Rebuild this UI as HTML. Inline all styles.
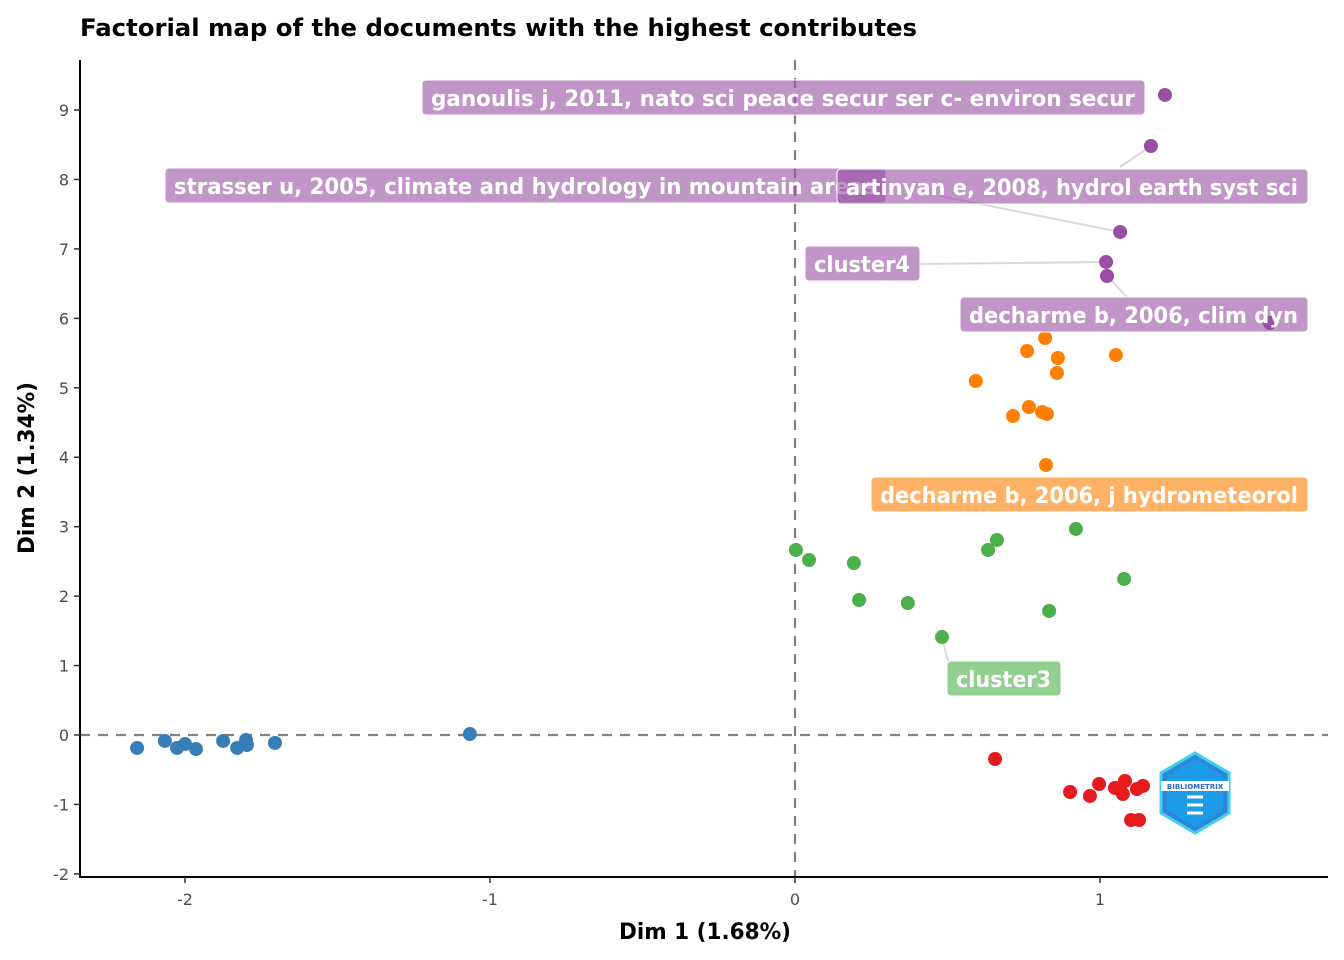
<!DOCTYPE html>
<html><head><meta charset="utf-8"><style>
body{margin:0;background:#fff}
svg{display:block;font-family:"DejaVu Sans","Liberation Sans",sans-serif}
</style></head><body>
<svg id="chart" width="1344" height="960">
<text x="80" y="36" font-size="24" font-weight="bold" fill="#000" textLength="837" lengthAdjust="spacingAndGlyphs">Factorial map of the documents with the highest contributes</text>
<g id="grid"></g>
<g id="links"></g>
<g id="pts"></g>
<g id="labels"></g>
<g id="axes"></g>
<g transform="translate(1195,793)">
<polygon points="0,-40 34,-20 34,20 0,40 -34,20 -34,-20" fill="#2f86d8" stroke="#3fd0f0" stroke-width="3"/>
<polygon points="0,-34 28,-17 28,17 0,34 -28,17 -28,-17" fill="#1e9be6"/>
<rect x="-34" y="-12" width="68" height="10" fill="#fff"/>
<text x="0" y="-4" font-size="7" font-weight="bold" text-anchor="middle" fill="#2a6cc8">BIBLIOMETRIX</text>
<path d="M-8,4 h16 M-8,12 h16 M-8,20 h16" stroke="#fff" stroke-width="3"/>
</g>
<text x="705" y="939" font-size="22" font-weight="bold" text-anchor="middle" textLength="172" lengthAdjust="spacingAndGlyphs">Dim 1 (1.68%)</text>
<text transform="translate(34,468) rotate(-90)" font-size="22" font-weight="bold" text-anchor="middle" textLength="172" lengthAdjust="spacingAndGlyphs">Dim 2 (1.34%)</text>
</svg>
<script>
const xTicks=[-2,-1,0,1];
const yTicks=[-2,-1,0,1,2,3,4,5,6,7,8,9];
const blueX=[-2.157,-2.066,-2.026,-2.0,-1.964,-1.875,-1.829,-1.8,-1.797,-1.705,-1.066];
const blueY=[-0.187,-0.086,-0.187,-0.13,-0.202,-0.086,-0.187,-0.072,-0.144,-0.115,0.014];
const redX=[0.656,0.902,0.967,0.997,1.049,1.082,1.075,1.121,1.141,1.102,1.128];
const redY=[-0.346,-0.821,-0.878,-0.706,-0.763,-0.662,-0.85,-0.778,-0.734,-1.224,-1.224];
const greenX=[0.003,0.046,0.193,0.21,0.37,0.482,0.633,0.662,0.833,0.921,1.079];
const greenY=[2.664,2.52,2.477,1.944,1.901,1.411,2.664,2.808,1.786,2.967,2.247];
const orangeX=[0.82,0.761,0.862,1.052,0.859,0.593,0.767,0.715,0.81,0.826,0.823];
const orangeY=[5.717,5.53,5.429,5.472,5.213,5.098,4.723,4.594,4.651,4.623,3.888];
const purpleX=[1.213,1.167,1.066,1.02,1.023,1.557];
const purpleY=[9.217,8.482,7.244,6.812,6.61,5.933];
const sx=v=>795+v*305;
const sy=v=>735-v*69.44;
const NS="http://www.w3.org/2000/svg";
function mk(tag,attrs,parent){const e=document.createElementNS(NS,tag);for(const k in attrs)e.setAttribute(k,attrs[k]);parent.appendChild(e);return e;}
const grid=document.getElementById('grid');
let l=mk('line',{x1:80,x2:1328,y1:sy(0),y2:sy(0),stroke:'#808080','stroke-width':2.2,'stroke-dasharray':'10,8'},grid);


l=mk('line',{x1:sx(0),x2:sx(0),y1:60,y2:877,stroke:'#808080','stroke-width':2.2,'stroke-dasharray':'10,8'},grid);


const axes=document.getElementById('axes');
mk('line',{x1:80,x2:80,y1:60,y2:877,stroke:'#000','stroke-width':2},axes);
mk('line',{x1:79,x2:1328,y1:877,y2:877,stroke:'#000','stroke-width':2},axes);
xTicks.forEach(t=>{mk('line',{x1:sx(t),x2:sx(t),y1:877,y2:883,stroke:'#333','stroke-width':1.5},axes);
const tx=mk('text',{x:sx(t),y:905,'font-size':16,'text-anchor':'middle',fill:'#4d4d4d'},axes);tx.textContent=t;

});
yTicks.forEach(t=>{mk('line',{x1:74,x2:80,y1:sy(t),y2:sy(t),stroke:'#333','stroke-width':1.5},axes);
const tx=mk('text',{x:69,y:sy(t)+6,'font-size':16,'text-anchor':'end',fill:'#4d4d4d'},axes);tx.textContent=t;

});
const pts=document.getElementById('pts');
[[blueX,blueY,'#377eb8','cluster1'],[redX,redY,'#e41a1c','cluster2'],[greenX,greenY,'#4daf4a','cluster3'],[orangeX,orangeY,'#ff7f00','cluster5'],[purpleX,purpleY,'#984ea3','cluster4']].forEach(([X,Y,c,n])=>{
X.forEach((x,i)=>{const p=mk('circle',{cx:sx(x),cy:sy(Y[i]),r:7,fill:c},pts);

});});
const links=document.getElementById('links');
[[1120,167,sx(purpleX[1]),sy(purpleY[1])],[940,196,sx(purpleX[2]),sy(purpleY[2])],[920,264,sx(purpleX[3]),sy(purpleY[3])],[1127,297,sx(purpleX[4]),sy(purpleY[4])],[948,661,sx(greenX[5]),sy(greenY[5])]].forEach(a=>{
mk('line',{x1:a[0],y1:a[1],x2:a[2],y2:a[3],stroke:'#d9d9d9','stroke-width':2},links);});
const labels=document.getElementById('labels');
[['ganoulis j, 2011, nato sci peace secur ser c- environ secur',422,80,723,'rgba(152,78,163,0.6)'],
['strasser u, 2005, climate and hydrology in mountain areas',165,168,721,'rgba(152,78,163,0.6)'],
['artinyan e, 2008, hydrol earth syst sci',837,169,471,'rgba(152,78,163,0.6)'],
['cluster4',805,246,115,'rgba(152,78,163,0.6)'],
['decharme b, 2006, clim dyn',960,297,348,'rgba(152,78,163,0.6)'],
['decharme b, 2006, j hydrometeorol',871,477,437,'rgba(255,127,0,0.6)'],
['cluster3',947,661,114,'rgba(77,175,74,0.6)']].forEach(([t,x,y,w,c])=>{
const g=mk('g',{},labels);


mk('rect',{x:x,y:y,width:w,height:35,rx:4,fill:c,stroke:'#fff','stroke-width':1},g);
const tx=mk('text',{x:x+9,y:y+26,'font-size':22,'font-weight':'bold',fill:'#fff',textLength:w-19,lengthAdjust:'spacingAndGlyphs'},g);tx.textContent=t;});
</script>
</body></html>
